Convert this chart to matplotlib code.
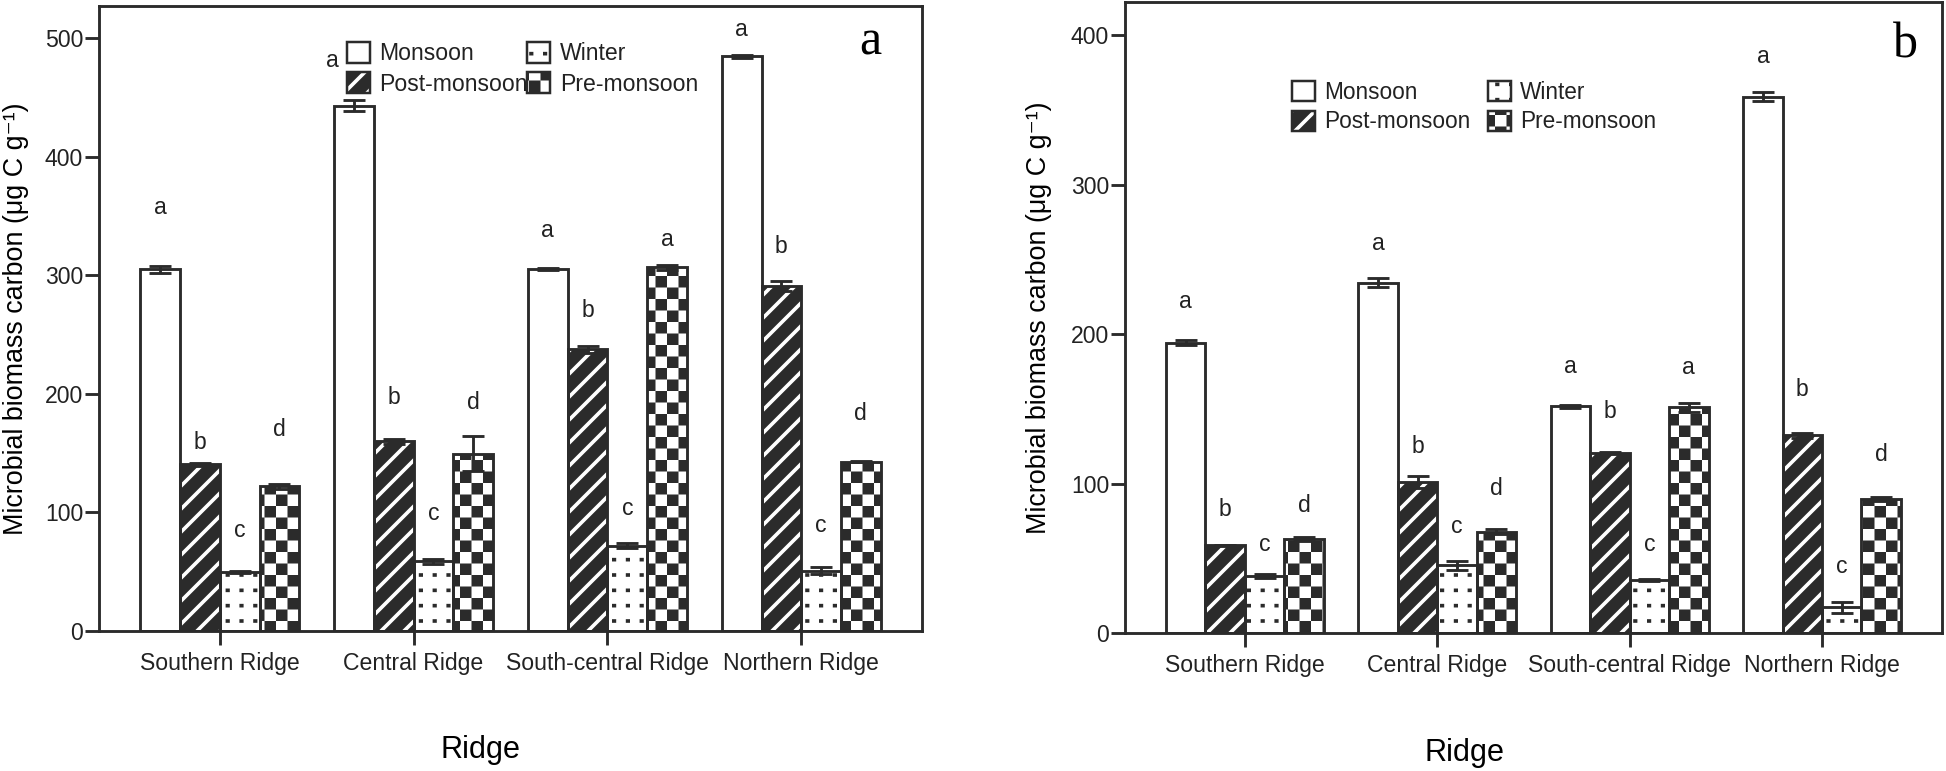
import numpy as np
import matplotlib
matplotlib.use("Agg")
import matplotlib.pyplot as plt
from matplotlib import hatch as mhatch
from matplotlib.path import Path
from matplotlib.patches import Patch
from matplotlib.legend_handler import HandlerTuple

DPI = 138
DARK = "#2b2b2b"
TXT = "#222222"
BAR_LW = 1.5
HATCH_LW = 1.9

plt.rcParams["font.family"] = ["Liberation Sans", "DejaVu Sans"]
plt.rcParams["hatch.linewidth"] = HATCH_LW
plt.rcParams["text.color"] = TXT

ridges = ["Southern Ridge", "Central Ridge", "South-central Ridge", "Northern Ridge"]
seasons = ["Monsoon", "Post-monsoon", "Winter", "Pre-monsoon"]

# panel a  (ug C / g)
monsoon_a = [305, 443, 305.5, 484.6]
post_a = [140.5, 160, 237.7, 291]
winter_a = [50, 58.6, 72, 51]
pre_a = [122, 149.5, 306.7, 142.6]
monsoon_a_se = [3, 4.5, 1, 1.5]
post_a_se = [1, 2, 3, 4]
winter_a_se = [1, 2, 2, 3]
pre_a_se = [2, 15, 2, 0.5]
letters_a = [["a", "b", "c", "d"], ["a", "b", "c", "d"], ["a", "b", "c", "a"], ["a", "b", "c", "d"]]
letter_y_a = [[357, 159, 85, 170], [481, 197, 99, 193], [338, 270, 103, 330], [507, 324, 89, 183]]

# panel b
monsoon_b = [194.4, 234.5, 151.6, 358.9]
post_b = [58.6, 101.3, 120.4, 132.2]
winter_b = [38.2, 45.4, 35.5, 17.1]
pre_b = [62.8, 67.8, 151, 89.8]
monsoon_b_se = [1.5, 3, 1, 3]
post_b_se = [0.5, 4, 0.5, 1.5]
winter_b_se = [1.5, 3, 0.5, 3.5]
pre_b_se = [1.5, 1.5, 3, 1.5]
letters_b = [["a", "b", "c", "d"], ["a", "b", "c", "d"], ["a", "b", "c", "a"], ["a", "b", "c", "d"]]
letter_y_b = [[222, 82.6, 59.5, 85], [260.5, 125, 71, 97], [178.6, 148, 59.5, 177.6], [386, 163, 44.4, 119.4]]


# two extra hatch patterns: 'O' -> checkerboard, '.' -> grid of dots
class CheckerHatch(mhatch.HatchPatternBase):
    def __init__(self, hatch, density):
        self.n = hatch.count("O") * density
        self.cells = [(i, j) for i in range(self.n) for j in range(self.n) if (i + j) % 2 == 0]
        self.num_vertices = 5 * len(self.cells)

    def set_vertices_and_codes(self, vertices, codes):
        s = 1.0 / self.n
        pad = HATCH_LW / 72 / 2  # stroke grows each square
        for k, (i, j) in enumerate(self.cells):
            x0, y0, x1, y1 = i * s + pad, j * s + pad, (i + 1) * s - pad, (j + 1) * s - pad
            vertices[5 * k:5 * k + 5] = [(x0, y0), (x1, y0), (x1, y1), (x0, y1), (x0, y0)]
            codes[5 * k:5 * k + 5] = [Path.MOVETO, Path.LINETO, Path.LINETO, Path.LINETO, Path.CLOSEPOLY]


class DotGridHatch(mhatch.HatchPatternBase):
    def __init__(self, hatch, density):
        self.nx = hatch.count(".") * 5
        self.ny = hatch.count(".") * 9 // 2
        self.num_vertices = 2 * self.nx * self.ny

    def set_vertices_and_codes(self, vertices, codes):
        d = 0.002  # very short stroke -> a dot
        k = 0
        for i in range(self.nx):
            for j in range(self.ny):
                cx, cy = (i + 0.5) / self.nx, (j + 0.5) / self.ny
                vertices[2 * k:2 * k + 2] = [(cx - d, cy), (cx + d, cy)]
                codes[2 * k:2 * k + 2] = [Path.MOVETO, Path.LINETO]
                k += 1


mhatch._hatch_types = [CheckerHatch if t is mhatch.LargeCircles
                       else DotGridHatch if t is mhatch.SmallFilledCircles
                       else t for t in mhatch._hatch_types]

# face colour, hatch, hatch colour
styles = {
    "Monsoon": ("white", None, "white"),
    "Post-monsoon": (DARK, "//", "white"),
    "Winter": ("white", "..", DARK),
    "Pre-monsoon": ("white", "OO", DARK),
}


def legend_handle(season):
    face, h, hc = styles[season]
    return (Patch(facecolor=face, edgecolor=hc, hatch=h, linewidth=0),
            Patch(fill=False, edgecolor=DARK, linewidth=1.3))


def draw_panel(ax, series, errs, letters, letter_y, ymax, yticks, tag, tag_xy, leg_anchor, colspace, leg_fs):
    x = np.arange(len(ridges))
    width = 0.205
    for k, season in enumerate(seasons):
        xs = x + (k - 1.5) * width
        face, h, hc = styles[season]
        ax.bar(xs, series[k], width, color=face, edgecolor=hc, hatch=h, linewidth=0, zorder=2)
        ax.bar(xs, series[k], width, fill=False, edgecolor=DARK, linewidth=BAR_LW, zorder=3)
        ax.errorbar(xs, series[k], yerr=errs[k], fmt="none", ecolor=DARK, elinewidth=1.5,
                    capsize=5.5, capthick=1.5, zorder=4)
        for g in range(len(ridges)):
            lx = xs[g]
            if ax is axes[0] and g == 1 and k == 0:
                lx -= 0.11  # moved clear of the legend
            ax.text(lx, letter_y[g][k], letters[g][k], ha="center", va="center", fontsize=12, color=TXT)

    ax.set_xlim(-0.623, 3.623)
    ax.set_ylim(0, ymax)
    ax.set_yticks(yticks)
    ax.set_xticks(x, ridges)
    ax.tick_params(direction="out", length=7.3, width=1.5, color=DARK, labelcolor=TXT, labelsize=12)
    ax.tick_params(axis="y", pad=1)
    ax.tick_params(axis="x", pad=3.5)
    for sp in ax.spines.values():
        sp.set_linewidth(1.5)
        sp.set_color(DARK)

    ax.set_ylabel("Microbial biomass carbon (μg C g⁻¹)", fontsize=14, va="center")
    ax.set_xlabel("Ridge", fontsize=16, va="center")

    ax.text(tag_xy[0], tag_xy[1], tag, transform=ax.transAxes, ha="center", va="baseline",
            fontsize=26, family="Liberation Serif", color="black")

    handles = [legend_handle(s) for s in seasons]
    ax.legend(handles, seasons, ncol=2, loc="upper left", bbox_to_anchor=leg_anchor, frameon=False,
              fontsize=leg_fs, handlelength=1.0, handleheight=1.0, handletextpad=0.4,
              labelspacing=0.3, columnspacing=colspace, borderpad=0, borderaxespad=0,
              handler_map={tuple: HandlerTuple(ndivide=1, pad=0)})


fig = plt.figure(figsize=(1946 / DPI, 771 / DPI), dpi=DPI)
axes = [fig.add_axes([0.0509, 0.1816, 0.4229, 0.8106]),
        fig.add_axes([0.5781, 0.1790, 0.4198, 0.8178])]

draw_panel(axes[0], [monsoon_a, post_a, winter_a, pre_a],
           [monsoon_a_se, post_a_se, winter_a_se, pre_a_se],
           letters_a, letter_y_a, 527, range(0, 501, 100), "a", (0.937, 0.922),
           (0.301, 0.942), 0.0, 12)
draw_panel(axes[1], [monsoon_b, post_b, winter_b, pre_b],
           [monsoon_b_se, post_b_se, winter_b_se, pre_b_se],
           letters_b, letter_y_b, 422, range(0, 401, 100), "b", (0.955, 0.912),
           (0.205, 0.876), 0.8, 11.8)

axes[0].yaxis.set_label_coords(-0.101, 0.5)
axes[1].yaxis.set_label_coords(-0.105, 0.5)
axes[0].xaxis.set_label_coords(0.464, -0.19)
axes[1].xaxis.set_label_coords(0.415, -0.19)

fig.savefig("out.png", dpi=DPI)
